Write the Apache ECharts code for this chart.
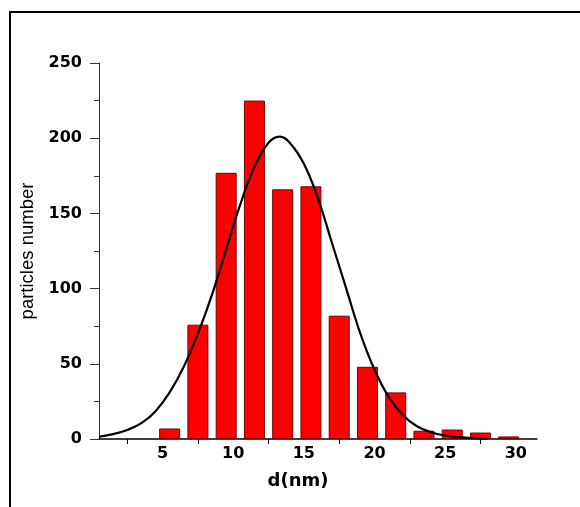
<!DOCTYPE html>
<html>
<head>
<meta charset="utf-8">
<script src="https://cdn.jsdelivr.net/npm/echarts@6/dist/echarts.min.js"></script>
<style>
    html, body { margin: 0; padding: 0; background: #fff; }
    #chart { width: 580px; height: 507px; }
</style>
</head>
<body>
<div id="chart"></div>
<script>
// bin centres (nm) and counts
var binCentres = [5.5, 7.5, 9.5, 11.5, 13.5, 15.5, 17.5, 19.5, 21.5, 23.5, 25.5, 27.5, 29.5];
var binCounts = [7, 76, 177, 225, 166, 168, 82, 48, 31, 5.5, 6.3, 4.3, 1.7];

// fitted curve
var fitX = [0.5, 1.5, 2.5, 3.5, 4.5, 5.5, 6.5, 7.5, 8.5, 9.5, 10.5, 11.5, 12.5, 13.3, 14, 15, 16, 17, 18, 19, 20, 21, 22, 23, 24, 25, 26, 27, 28];
var fitY = [1.5, 3.2, 6, 10.5, 18.5, 31, 48, 70, 96, 126, 156, 181, 197, 201, 197, 183, 160, 130, 100, 70, 46, 28, 16, 8.5, 4.5, 2.3, 1.2, 0.6, 0.3];

// axis ticks
var xLabels = [5, 10, 15, 20, 25, 30];
var xTicks = [2.5, 7.5, 12.5, 17.5, 22.5, 27.5];

var bars = binCentres.map(function (x, i) { return [x, binCounts[i]]; });
var fit = fitX.map(function (x, i) { return [x, fitY[i]]; });

var myChart = echarts.init(document.getElementById('chart'));
myChart.setOption({
    backgroundColor: '#fff',
    animation: false,
    grid: {left: 99, right: 43, top: 63, bottom: 68},
    graphic: [{
        type: 'polyline',
        shape: {points: [[10, 507], [10, 12], [580, 12]]},
        style: {stroke: '#000', lineWidth: 2, fill: null}
    }],
    xAxis: {
        type: 'value',
        min: 0.5,
        max: 31.5,
        name: 'd(nm)',
        nameLocation: 'middle',
        nameGap: 33,
        nameTextStyle: {
            fontFamily: 'DejaVu Sans',
            fontWeight: 'bold',
            fontSize: 18,
            color: '#000',
            padding: [0, 40, 0, 0]
        },
        axisLine: {lineStyle: {color: '#000', width: 1.5}},
        axisTick: {show: true, customValues: xTicks, length: 5, lineStyle: {color: '#000'}},
        axisLabel: {
            customValues: xLabels,
            margin: 7,
            fontFamily: 'DejaVu Sans',
            fontWeight: 'bold',
            fontSize: 16,
            color: '#000'
        },
        splitLine: {show: false}
    },
    yAxis: {
        type: 'value',
        min: 0,
        max: 250,
        interval: 50,
        name: 'particles number',
        nameLocation: 'middle',
        nameGap: 55,
        nameTextStyle: {
            fontFamily: 'Liberation Sans, Arial, sans-serif',
            fontSize: 18.5,
            color: '#000'
        },
        axisLine: {show: true, lineStyle: {color: '#333', width: 1}},
        axisTick: {show: true, length: 9, lineStyle: {color: '#333'}},
        minorTick: {show: true, splitNumber: 2, length: 5, lineStyle: {color: '#333'}},
        axisLabel: {
            margin: 17,
            fontFamily: 'DejaVu Sans',
            fontWeight: 'bold',
            fontSize: 16,
            color: '#000'
        },
        splitLine: {show: false}
    },
    series: [{
        name: 'count',
        type: 'bar',
        barWidth: 21,
        itemStyle: {color: '#ff0000', borderColor: '#7a0000', borderWidth: 1},
        data: bars
    }, {
        name: 'fit',
        type: 'line',
        smooth: 0.4,
        showSymbol: false,
        lineStyle: {color: '#000', width: 2.2},
        data: fit
    }]
});
</script>
</body>
</html>
